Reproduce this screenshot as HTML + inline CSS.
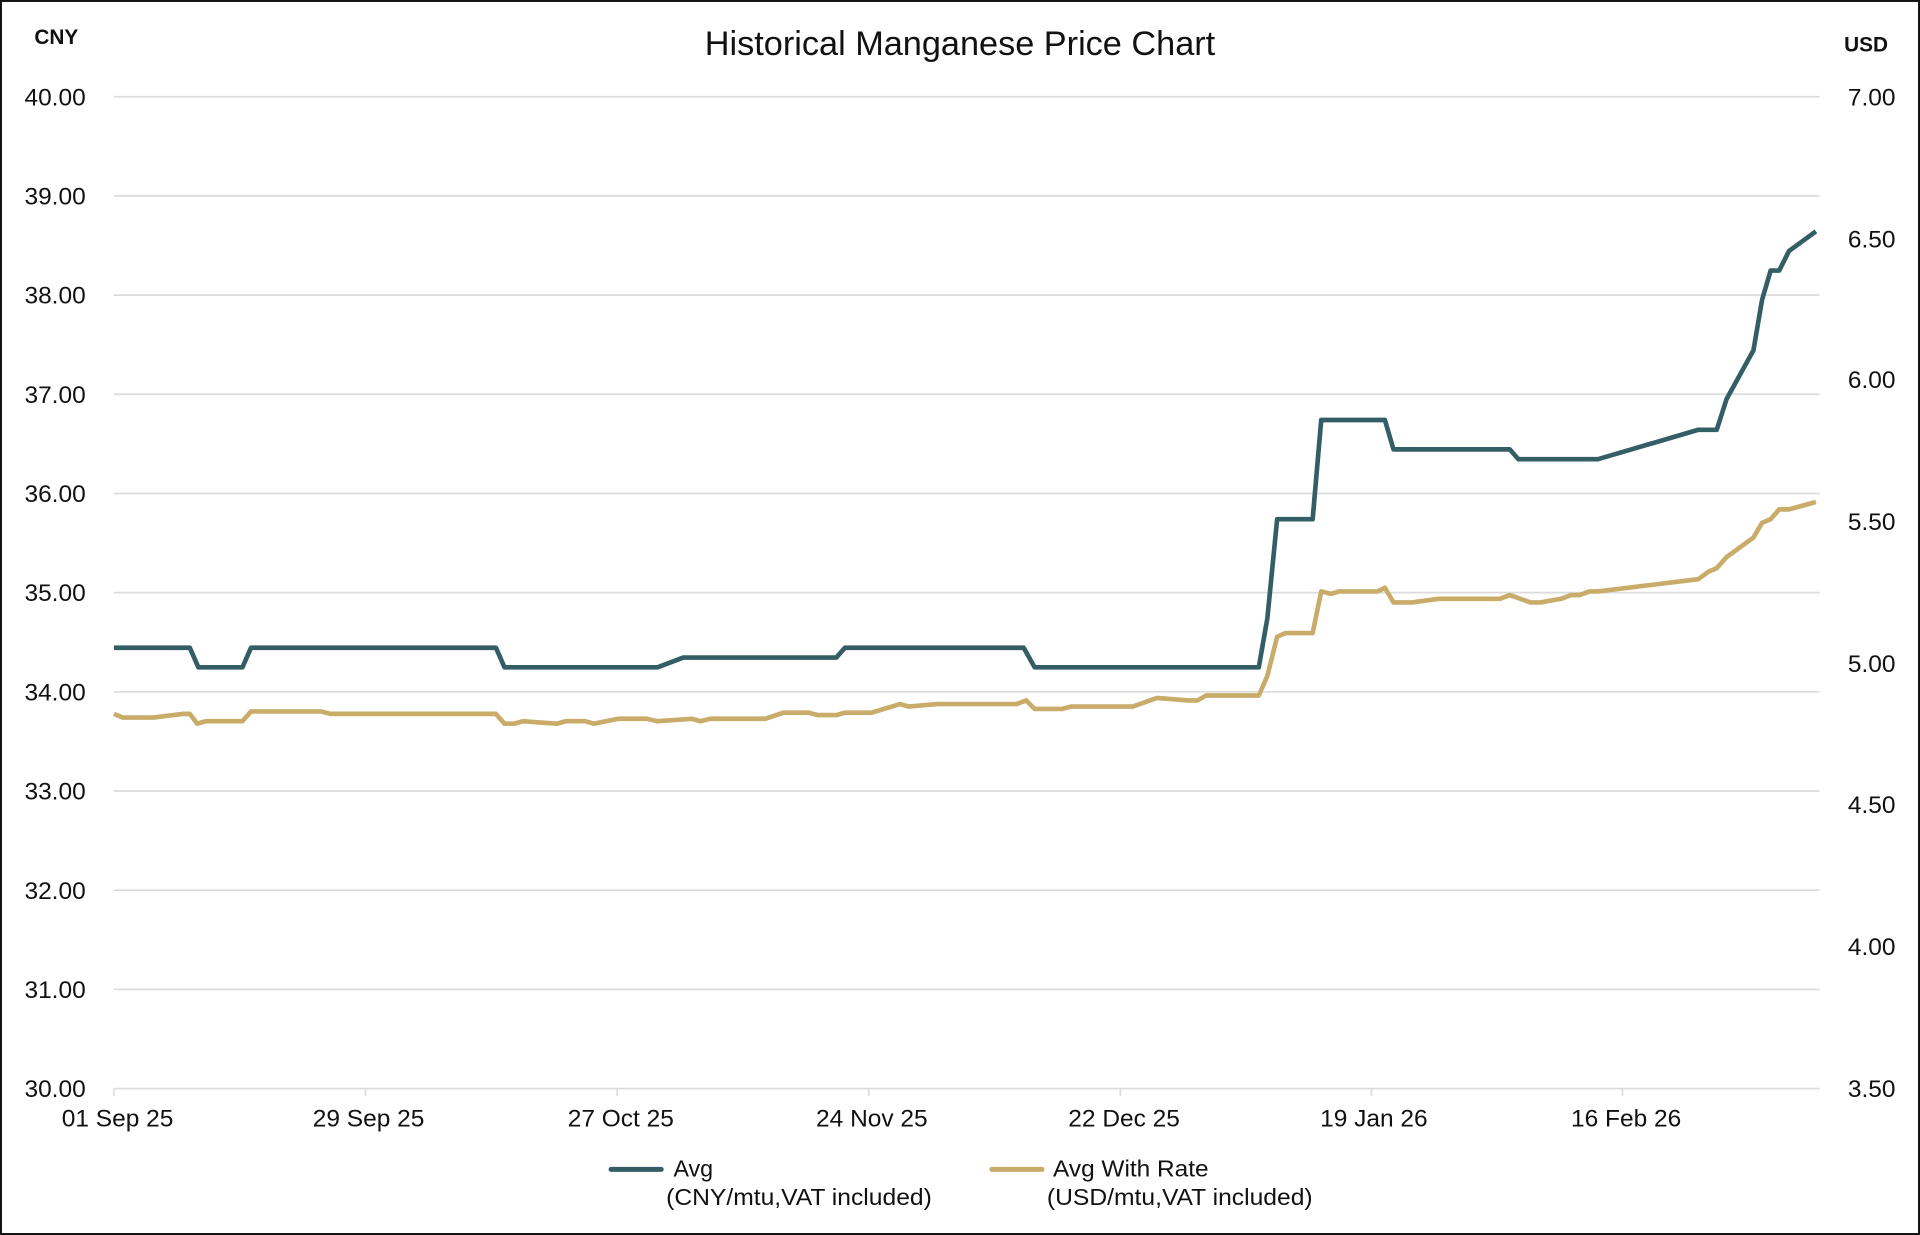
<!DOCTYPE html>
<html><head><meta charset="utf-8"><style>
html,body{margin:0;padding:0;background:#fff}
svg{display:block}
text{font-family:"Liberation Sans",Arial,sans-serif;fill:#111}
</style></head><body>
<svg width="1920" height="1235" viewBox="0 0 1568 1008.6" preserveAspectRatio="none">
<rect x="0.8" y="0.8" width="1566.4" height="1007" fill="#fff" stroke="#111" stroke-width="1.6"/>
<text x="784" y="45" font-size="28" text-anchor="middle">Historical Manganese Price Chart</text>
<text x="46" y="36" font-size="17" font-weight="bold" text-anchor="middle">CNY</text>
<text x="1524" y="42" font-size="17" font-weight="bold" text-anchor="middle">USD</text>
<g stroke="#dcdcdc" stroke-width="1.4">
<line x1="93" x2="1486" y1="79" y2="79"/><line x1="93" x2="1486" y1="160" y2="160"/>
<line x1="93" x2="1486" y1="241" y2="241"/><line x1="93" x2="1486" y1="322" y2="322"/>
<line x1="93" x2="1486" y1="403" y2="403"/><line x1="93" x2="1486" y1="484" y2="484"/>
<line x1="93" x2="1486" y1="565" y2="565"/><line x1="93" x2="1486" y1="646" y2="646"/>
<line x1="93" x2="1486" y1="727" y2="727"/><line x1="93" x2="1486" y1="808" y2="808"/>
<line x1="93" x2="1486" y1="889" y2="889"/>
<line x1="93" x2="93" y1="889" y2="895"/><line x1="298.5" x2="298.5" y1="889" y2="895"/>
<line x1="504" x2="504" y1="889" y2="895"/><line x1="709.5" x2="709.5" y1="889" y2="895"/>
<line x1="915" x2="915" y1="889" y2="895"/><line x1="1120" x2="1120" y1="889" y2="895"/>
<line x1="1325" x2="1325" y1="889" y2="895"/>
</g>
<g font-size="20" text-anchor="end">
<text x="70" y="86">40.00</text><text x="70" y="167">39.00</text><text x="70" y="248">38.00</text>
<text x="70" y="329">37.00</text><text x="70" y="410">36.00</text><text x="70" y="491">35.00</text>
<text x="70" y="572">34.00</text><text x="70" y="653">33.00</text><text x="70" y="734">32.00</text>
<text x="70" y="815">31.00</text><text x="70" y="896">30.00</text>
</g>
<g font-size="20" text-anchor="end">
<text x="1548" y="86">7.00</text><text x="1548" y="202">6.50</text><text x="1548" y="317">6.00</text>
<text x="1548" y="433">5.50</text><text x="1548" y="549">5.00</text><text x="1548" y="664">4.50</text>
<text x="1548" y="780">4.00</text><text x="1548" y="896">3.50</text>
</g>
<g font-size="20" text-anchor="middle">
<text x="96" y="920">01 Sep 25</text><text x="301" y="920">29 Sep 25</text><text x="507" y="920">27 Oct 25</text>
<text x="712" y="920">24 Nov 25</text><text x="918" y="920">22 Dec 25</text><text x="1122" y="920">19 Jan 26</text>
<text x="1328" y="920">16 Feb 26</text>
</g>
<polyline fill="none" stroke="#c9ab6a" stroke-width="3.8" stroke-linejoin="round" points="93,583 100,586 125,586 150,583 155,583 161,591 168,589 198,589 205,581 262,581 270,583 405,583 412,591 420,591 427,589 440,590 455,591 462,589 478,589 485,591 505,587 528,587 537,589 565,587 572,589 580,587 625,587 640,582 660,582 668,584 683,584 690,582 712,582 735,575 742,577 765,575 830,575 838,572 845,579 867,579 875,577 925,577 945,570 970,572 978,572 985,568 1028,568 1035,552 1043,520 1050,517 1072,517 1079,483 1087,485 1094,483 1125,483 1131,480 1138,492 1153,492 1175,489 1225,489 1233,486 1250,492 1258,492 1275,489 1283,486 1290,486 1298,483 1305,483 1387,473 1395,467 1402,464 1410,455 1432,439 1439,427 1446,424 1453,416 1461,416 1483,410"/>
<polyline fill="none" stroke="#345e66" stroke-width="3.8" stroke-linejoin="round" points="93,529 155,529 162,545 198,545 205,529 405,529 412,545 537,545 558,537 683,537 690,529 836,529 845,545 1028,545 1035,505 1043,424 1072,424 1079,343 1131,343 1138,367 1233,367 1240,375 1305,375 1387,351 1402,351 1410,326 1432,286 1439,245 1446,221 1453,221 1461,205 1483,189"/>
<line x1="499" x2="540" y1="955" y2="955" stroke="#345e66" stroke-width="4" stroke-linecap="round"/>
<line x1="810" x2="851" y1="955" y2="955" stroke="#c9ab6a" stroke-width="4" stroke-linecap="round"/>
<g font-size="19">
<text x="550" y="961">Avg</text><text x="544" y="984" textLength="217" lengthAdjust="spacingAndGlyphs">(CNY/mtu,VAT included)</text>
<text x="860" y="961" textLength="127" lengthAdjust="spacingAndGlyphs">Avg With Rate</text><text x="855" y="984" textLength="217" lengthAdjust="spacingAndGlyphs">(USD/mtu,VAT included)</text>
</g>
</svg>
</body></html>
